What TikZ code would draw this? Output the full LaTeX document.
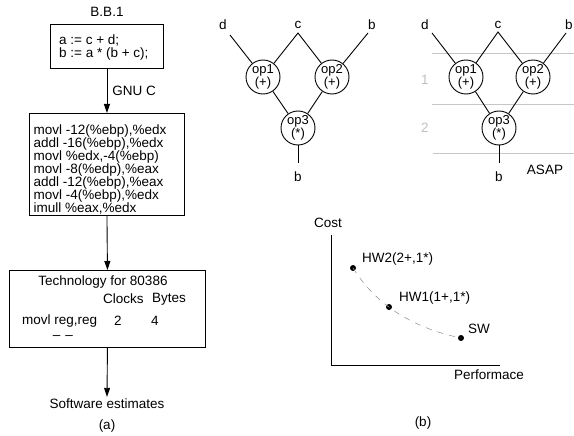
\documentclass[tikz,border=0pt]{standalone}
\usepackage{fontspec}
\setmainfont{Liberation Sans}
\usetikzlibrary{arrows.meta}
\begin{document}
\begin{tikzpicture}[x=1pt,y=-1pt,
  font=\fontsize{13.5}{13}\selectfont,
  box/.style={draw, line width=0.9pt, inner sep=0pt, anchor=north west},
  txt/.style={inner sep=0pt},
  opnode/.style={draw, circle, minimum size=34pt, inner sep=0pt, align=center, line width=0.9pt, font=\fontsize{13}{11.5}\selectfont},
  arr/.style={-{Triangle[length=9pt,width=6pt]}, line width=0.9pt},
  ln/.style={line width=0.9pt},
  stage/.style={draw=gray!45, line width=0.9pt},
  dot/.style={circle, fill=black, minimum size=6pt, inner sep=0pt}]
\useasboundingbox (0,0) rectangle (574,436);

% ---------- (a) ----------
\node[txt] (bb) at (107,12) {B.B.1};
\node[box, minimum width=113pt, minimum height=44pt] (b1) at (50,24) {};
\node[txt, anchor=north west, align=left] (src) at (59,35) {a := c + d;\\b := a * (b + c);};
\node[box, minimum width=155pt, minimum height=102pt] (b2) at (29,113) {};
\node[txt, anchor=north west, align=left, font=\fontsize{13.5}{12.9}\selectfont] (asm) at (33.5,125) {movl -12(\%ebp),\%edx\\addl -16(\%ebp),\%edx\\movl \%edx,-4(\%ebp)\\movl -8(\%edp),\%eax\\addl -12(\%ebp),\%eax\\movl -4(\%ebp),\%edx\\imull \%eax,\%edx};
\node[box, minimum width=196pt, minimum height=77pt] (b3) at (9,270) {};
\node[txt] (tech) at (103,282) {Technology for 80386};
\node[txt, anchor=west] (clk) at (103,299) {Clocks};
\node[txt, anchor=west] (byt) at (152,299) {Bytes};
\node[txt, anchor=west] (movl) at (22,321) {movl reg,reg};
\node[txt] (two) at (118,321) {2};
\node[txt] (four) at (155,321) {4};
\node[txt] (dd) at (63,338) {–\hspace{5pt}–};
\node[txt] (swe) at (107,404) {Software estimates};
\node[txt] (la) at (107,426) {(a)};

\draw[arr] (b1.south) -- (b2.north) node[midway, right=5pt, txt] (gnu) {GNU C};
\draw[arr] (b2.south) -- (b3.north);
\draw[arr] (b3.south) -- ([yshift=2pt]swe.north);

% ---------- DAG ----------
\node[txt] (d1) at (223,25) {d};
\node[txt] (c1) at (298,25) {c};
\node[txt] (bi1) at (372,25) {b};
\coordinate (d1e) at (230,35);
\coordinate (c1e) at (298,33);
\coordinate (b1e) at (368,33);
\node[opnode] (op1) at (263,77) {op1\\(+)};
\node[opnode] (op2) at (332,77) {op2\\(+)};
\node[opnode] (op3) at (298,128) {op3\\(*)};
\coordinate (o1e) at (298,163);
\node[txt] (bo1) at (298,177) {b};
\draw[ln] (d1e) -- (op1);
\draw[ln] (op1) -- (c1e) -- (op2);
\draw[ln] (b1e) -- (op2);
\draw[ln] (op1) -- (op3);
\draw[ln] (op2) -- (op3);
\draw[ln] (op3) -- (o1e);

% ---------- ASAP ----------
\coordinate (s1a) at (432,53); \coordinate (s1b) at (574,53);
\coordinate (s2a) at (432,104); \coordinate (s2b) at (574,104);
\coordinate (s3a) at (433,153); \coordinate (s3b) at (574,153);
\draw[stage] (s1a) -- (s1b);
\draw[stage] (s2a) -- (s2b);
\draw[stage] (s3a) -- (s3b);
\node[txt, text=gray!50] (n1) at (425,80) {1};
\node[txt, text=gray!50] (n2) at (425,128) {2};
\node[txt] (d2) at (425,25) {d};
\node[txt] (c2) at (498,25) {c};
\node[txt] (bi2) at (569,25) {b};
\coordinate (d2e) at (432,33);
\coordinate (c2e) at (498,32);
\coordinate (b2e) at (566,33);
\node[opnode] (op1b) at (466,77) {op1\\(+)};
\node[opnode] (op2b) at (533,77) {op2\\(+)};
\node[opnode] (op3b) at (499,128) {op3\\(*)};
\coordinate (o2e) at (499,163);
\node[txt] (bo2) at (499,177) {b};
\node[txt] (asap) at (545,170) {ASAP};
\draw[ln] (d2e) -- (op1b);
\draw[ln] (op1b) -- (c2e) -- (op2b);
\draw[ln] (b2e) -- (op2b);
\draw[ln] (op1b) -- (op3b);
\draw[ln] (op2b) -- (op3b);
\draw[ln] (op3b) -- (o2e);

% ---------- cost/performance ----------
\coordinate (ytop) at (331,235);
\coordinate (orig) at (331,365);
\coordinate (xend) at (500,365);
\draw[ln] (ytop) -- (orig) -- (xend);
\node[txt] (cost) at (328,223) {Cost};
\node[txt] (perf) at (489,375) {Performace};
\node[dot] (hw2) at (353,268) {};
\node[dot] (hw1) at (389,307) {};
\node[dot] (sw) at (461,338) {};
\draw[gray!80, line width=0.6pt, dash pattern=on 6pt off 6pt] (hw2.center) .. controls (368,292) and (398,325) .. (sw.center);
\node[txt, anchor=west] (hw2l) at (362,259) {HW2(2+,1*)};
\node[txt, anchor=west] (hw1l) at (399,298) {HW1(1+,1*)};
\node[txt, anchor=west] (swl) at (468,329) {SW};
\node[txt] (lb) at (423,423) {(b)};
\end{tikzpicture}
\end{document}
